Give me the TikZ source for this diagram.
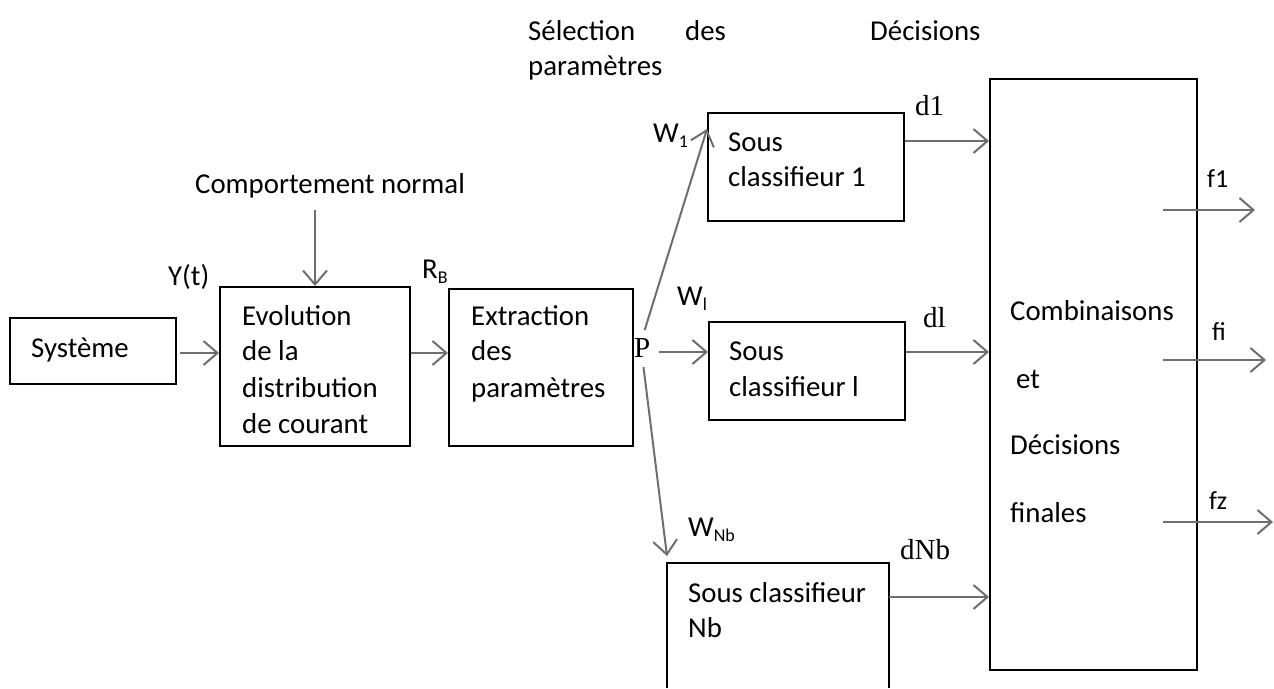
\documentclass[tikz,border=0pt]{standalone}
\usepackage{fontspec}
\setmainfont{Carlito}
\newfontfamily\tnr{Liberation Serif}
\usetikzlibrary{arrows.meta}
\definecolor{ag}{HTML}{6E6E6E}
\newcommand{\subtx}[1]{\raisebox{-5pt}{\fontsize{18}{20}\selectfont #1}}
\begin{document}
\begin{tikzpicture}[x=1pt,y=-1pt,
  box/.style={draw=black, line width=2pt, inner sep=0pt, anchor=north west},
  conn/.style={draw=ag, line width=2pt, -{Straight Barb[length=14pt,width=24pt,line width=2pt]}},
  txt/.style={anchor=base west, inner sep=0pt, font=\fontsize{28.8}{35}\selectfont},
  lbl/.style={anchor=base west, inner sep=0pt, font=\fontsize{26}{30}\selectfont},
  ser/.style={anchor=base west, inner sep=0pt, font=\tnr\fontsize{29}{35}\selectfont}]
\useasboundingbox (0,0) rectangle (1274,688);
% boxes
\node[box, minimum width=166pt, minimum height=66pt] (sys) at (9,317) {};
\node[box, minimum width=190pt, minimum height=159pt] (evo) at (219,286) {};
\node[box, minimum width=184pt, minimum height=157pt] (ext) at (448,288) {};
\node[box, minimum width=196pt, minimum height=108pt] (s1) at (707,112) {};
\node[box, minimum width=196pt, minimum height=98pt] (sl) at (708,321) {};
\node[anchor=north west, inner sep=0pt, minimum width=222pt, minimum height=125pt] (nb) at (667,563) {};
\draw[line width=2pt] (nb.south west) -- (nb.north west) -- (nb.north east) -- (nb.south east);
\node[box, minimum width=207pt, minimum height=591pt] (big) at (989,78) {};
% texts
\node[txt] (tsys) at (31,357) {Système};
\node[txt] (te1) at (242,325) {Evolution};
\node[txt] (te2) at (242,360) {de la};
\node[txt] (te3) at (242,397) {distribution};
\node[txt] (te4) at (242,433) {de courant};
\node[txt] (tx1) at (471,325) {Extraction};
\node[txt] (tx2) at (471,360) {des};
\node[txt] (tx3) at (471,397) {paramètres};
\node[txt] (ts11) at (728,151) {Sous};
\node[txt] (ts12) at (728,186) {classifieur 1};
\node[txt] (tsl1) at (729,360) {Sous};
\node[txt] (tsl2) at (729,396) {classifieur l};
\node[txt] (tnb1) at (688,602) {Sous classifieur};
\node[txt] (tnb2) at (688,637) {Nb};
\node[txt] (tb1) at (1010,320) {Combinaisons};
\node[txt] (tb2) at (1016,388) {et};
\node[txt] (tb3) at (1010,454) {Décisions};
\node[txt] (tb4) at (1010,522) {finales};
\node[txt] (top1) at (528,40) {Sélection};
\node[txt] (top2) at (685,40) {des};
\node[txt] (top3) at (870,40) {Décisions};
\node[txt] (top4) at (528,75) {paramètres};
\node[txt] (cn) at (195,193) {Comportement normal};
% labels
\node[txt] (yt) at (168,285) {Y(t)};
\node[txt] (rb) at (422,278) {R\subtx{B}};
\node[txt] (w1) at (653,142) {W\subtx{1}};
\node[txt] (wl) at (677,305) {W\subtx{l}};
\node[txt] (wnb) at (688,536) {W\subtx{Nb}};
\node[ser] (P) at (634,357) {P};
\node[ser] (d1) at (915,115) {d1};
\node[ser] (dl) at (923,327) {dl};
\node[ser] (dnb) at (900,559) {dNb};
\node[lbl] (f1) at (1207,187) {f1};
\node[lbl] (fi) at (1212,340) {fi};
\node[lbl] (fz) at (1209,509) {fz};
% connectors
\draw[conn, shorten <=3pt] (sys.east |- 0,353) -- (evo.west |- 0,353);
\draw[conn] (evo.east |- 0,353) -- (ext.west |- 0,353);
\draw[conn, shorten <=12pt] (evo.north |- cn.south) -- (evo.north);
\draw[conn, shorten <=8pt] (P.north) -- ([yshift=-17pt]s1.north west);
\draw[conn, shorten <=8pt] (P.east |- 0,352) -- (sl.west |- 0,352);
\draw[conn, shorten <=10pt] (P.south) -- ([yshift=7pt]nb.north west);
\draw[conn] (s1.east |- 0,141) -- (big.west |- 0,141);
\draw[conn] (sl.east |- 0,352) -- (big.west |- 0,352);
\draw[conn] (nb.east |- 0,597) -- (big.west |- 0,597);
\coordinate (f1s) at (1163,210); \coordinate (f1e) at (1255,210);
\coordinate (fis) at (1163,360); \coordinate (fie) at (1266,360);
\coordinate (fzs) at (1163,522); \coordinate (fze) at (1273,522);
\draw[conn] (f1s) -- (f1e);
\draw[conn] (fis) -- (fie);
\draw[conn] (fzs) -- (fze);
\end{tikzpicture}
\end{document}
